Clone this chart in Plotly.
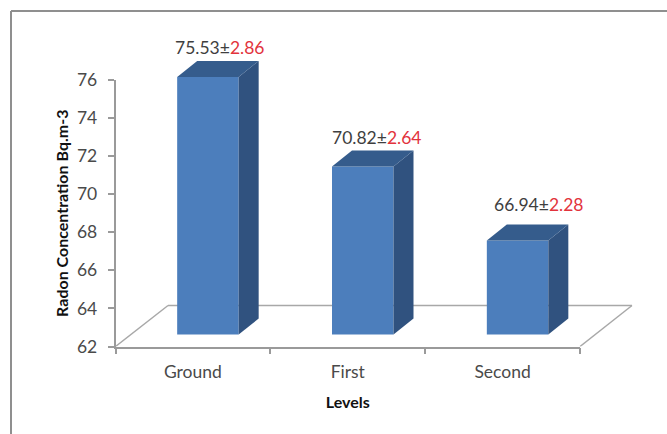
import plotly.graph_objects as go

# Radon concentration by building level
levels = ["Ground", "First", "Second"]
radon_mean = [75.53, 70.82, 66.94]
radon_err = [2.86, 2.64, 2.28]
y_ticks = [62, 64, 66, 68, 70, 72, 74, 76]

W, H = 667, 434
AXIS_LEFT, AXIS_RIGHT = 115.5, 580.0
AXIS_TOP, AXIS_BOTTOM = 80.0, 346.5
PX_PER_CAT = (AXIS_RIGHT - AXIS_LEFT) / 3
PX_PER_UNIT = (AXIS_BOTTOM - AXIS_TOP) / 14

# The bars sit on a second pair of axes shifted into the depth of the floor
SHIFT_X, SHIFT_Y = 15.0, 12.0
OVER_RIGHT, OVER_TOP = 640.0, 30.0
BAR_WIDTH = 61.5 / PX_PER_CAT
DEPTH_X, DEPTH_Y = 20.0 / PX_PER_CAT, 16.0 / PX_PER_UNIT
BASE = 62


def px_to_x2(px):
    return (px - (AXIS_LEFT + SHIFT_X + PX_PER_CAT / 2)) / PX_PER_CAT


def px_to_y2(py):
    return BASE + (AXIS_BOTTOM - SHIFT_Y - py) / PX_PER_UNIT


fig = go.Figure()

# Invisible trace that carries the category axis
fig.add_trace(go.Scatter(x=levels, y=[None] * 3, xaxis="x", yaxis="y",
                         showlegend=False, hoverinfo="skip"))

# Front faces
fig.add_trace(go.Bar(x=list(range(3)), y=[v - BASE for v in radon_mean], base=BASE,
                     width=BAR_WIDTH, xaxis="x2", yaxis="y2",
                     marker=dict(color="#4c7ebc", line=dict(width=0)),
                     showlegend=False, cliponaxis=False))

# Side and top faces, projected from the bar values
for i, v in enumerate(radon_mean):
    l, r = i - BAR_WIDTH / 2, i + BAR_WIDTH / 2
    fig.add_trace(go.Scatter(
        x=[r, r + DEPTH_X, r + DEPTH_X, r, r],
        y=[BASE, BASE + DEPTH_Y, v + DEPTH_Y, v, BASE],
        xaxis="x2", yaxis="y2", mode="lines", fill="toself",
        fillcolor="#30527f", line=dict(width=0), showlegend=False, cliponaxis=False))
    fig.add_trace(go.Scatter(
        x=[l, r, r + DEPTH_X, l + DEPTH_X, l],
        y=[v, v, v + DEPTH_Y, v + DEPTH_Y, v],
        xaxis="x2", yaxis="y2", mode="lines", fill="toself",
        fillcolor="#355c8c", line=dict(width=0), showlegend=False, cliponaxis=False))

# Floor outline, behind the bars
floor_color = "#a8a8a8"
floor = [(AXIS_LEFT, AXIS_BOTTOM), (168.0, 305.5), (632.0, 305.5), (AXIS_RIGHT, AXIS_BOTTOM)]
shapes = []
for (x0, y0), (x1, y1) in zip(floor[:-1], floor[1:]):
    shapes.append(dict(type="line", xref="x2", yref="y2", layer="below",
                       x0=px_to_x2(x0), y0=px_to_y2(y0), x1=px_to_x2(x1), y1=px_to_y2(y1),
                       line=dict(color=floor_color, width=1.5)))

# Frame of the chart area
frame = "#8f8f8f"
shapes.append(dict(type="line", xref="paper", yref="paper", x0=11 / W, x1=1, y0=1 - 11 / H, y1=1 - 11 / H,
                   line=dict(color=frame, width=2)))
shapes.append(dict(type="line", xref="paper", yref="paper", x0=11 / W, x1=11 / W, y0=0, y1=1 - 11 / H,
                   line=dict(color=frame, width=2)))

# Value labels; each sits just above its bar
label_shift = [(11.5, 29), (13.5, 29.5), (21, 35.5)]
annotations = []
for i, (v, e) in enumerate(zip(radon_mean, radon_err)):
    dx, dy = label_shift[i]
    annotations.append(dict(
        x=i, y=v, xref="x2", yref="y2", xshift=dx, yshift=dy, showarrow=False,
        text=f"<span style='color:#3f3f3f'>{v:.2f}±</span><span style='color:#e2333c'>{e:.2f}</span>",
        font=dict(family="Lato", size=17.5), xanchor="center", yanchor="middle"))

axis_line = dict(showline=True, linecolor="#9a9a9a", linewidth=1.5, ticks="outside",
                 tickcolor="#9a9a9a", tickwidth=1.5, ticklen=6, showgrid=False, zeroline=False,
                 automargin=False, tickfont=dict(family="Lato", size=17.5, color="#4a4a4a"))

title_font = dict(family="Lato", size=16, color="#111111")

fig.update_layout(
    width=W, height=H, margin=dict(l=0, r=0, t=0, b=0),
    paper_bgcolor="white", plot_bgcolor="rgba(0,0,0,0)",
    showlegend=False, shapes=shapes, annotations=annotations,
    xaxis=dict(domain=[AXIS_LEFT / W, AXIS_RIGHT / W], anchor="y", type="category",
               categoryorder="array", categoryarray=levels, range=[-0.5, 2.5],
               tickson="boundaries", ticklabelstandoff=9,
               title=dict(text="<b>Levels</b>", font=title_font, standoff=16),
               **axis_line),
    yaxis=dict(domain=[1 - AXIS_BOTTOM / H, 1 - AXIS_TOP / H], anchor="x", range=[62, 76],
               tickvals=y_ticks, ticklabelstandoff=7,
               title=dict(text="<b>Radon Concentration Bq.m-3</b>", font=title_font, standoff=4),
               **axis_line),
    xaxis2=dict(domain=[AXIS_LEFT / W, OVER_RIGHT / W], anchor="y2",
                range=[px_to_x2(AXIS_LEFT), px_to_x2(OVER_RIGHT)], visible=False),
    yaxis2=dict(domain=[1 - AXIS_BOTTOM / H, 1 - OVER_TOP / H], anchor="x2",
                range=[px_to_y2(AXIS_BOTTOM), px_to_y2(OVER_TOP)], visible=False),
)

fig.write_html("out.html", config=dict(displayModeBar=False))
